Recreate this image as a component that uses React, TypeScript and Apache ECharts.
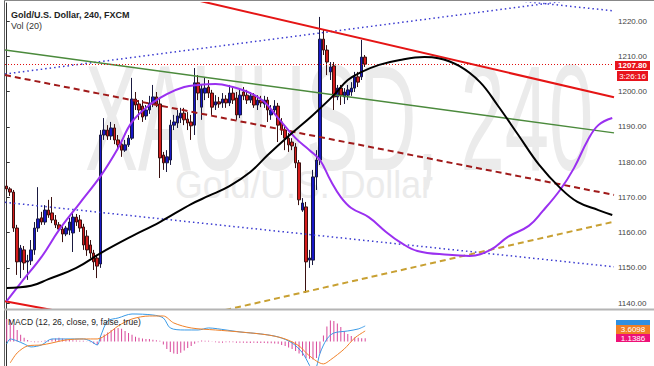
import React, { useEffect, useRef } from 'react';
import * as echarts from 'echarts';

const SLOTS = 175;
const categories: string[] = Array.from({ length: SLOTS }, (_, i) => String(i));

// [open, close, low, high]
const candles: number[][] = [
  [1173.2, 1172.4, 1171.8, 1174.9], [1172.4, 1171.5, 1170.4, 1172.9], [1171.5, 1161.3, 1160.2, 1172.1],
  [1161.3, 1151.7, 1148.0, 1162.2], [1151.7, 1155.6, 1147.1, 1156.5], [1155.1, 1151.4, 1149.4, 1156.2],
  [1151.7, 1152.0, 1146.6, 1153.7], [1152.0, 1155.1, 1150.8, 1157.9], [1155.1, 1161.3, 1153.7, 1163.0],
  [1161.3, 1163.9, 1160.2, 1172.9], [1164.2, 1163.0, 1162.2, 1165.9], [1163.0, 1166.4, 1162.2, 1167.8],
  [1166.4, 1165.0, 1164.2, 1169.3], [1165.6, 1163.6, 1162.7, 1170.1], [1163.6, 1162.2, 1161.3, 1165.0],
  [1162.2, 1161.0, 1160.2, 1163.0], [1161.0, 1159.6, 1157.3, 1161.9], [1159.6, 1161.3, 1159.0, 1161.9],
  [1160.7, 1163.0, 1159.3, 1164.2], [1159.9, 1164.4, 1154.5, 1165.6], [1164.4, 1163.0, 1161.9, 1165.3],
  [1163.6, 1161.3, 1160.2, 1165.0], [1161.6, 1156.5, 1155.1, 1162.5], [1159.0, 1155.1, 1153.4, 1160.7],
  [1156.5, 1154.2, 1152.8, 1157.9], [1154.2, 1151.7, 1149.4, 1155.1], [1152.8, 1150.5, 1147.1, 1153.7],
  [1151.1, 1187.7, 1150.0, 1189.1], [1187.7, 1189.1, 1186.3, 1192.5], [1189.1, 1187.4, 1186.3, 1190.5],
  [1187.4, 1189.7, 1186.3, 1191.4], [1189.7, 1186.3, 1185.1, 1190.8], [1186.3, 1184.9, 1183.4, 1187.7],
  [1185.1, 1183.4, 1181.5, 1186.3], [1183.4, 1184.9, 1182.9, 1186.3], [1184.9, 1186.8, 1184.3, 1187.7],
  [1186.8, 1197.9, 1186.3, 1203.9], [1197.9, 1196.2, 1194.8, 1199.9], [1196.5, 1194.8, 1192.0, 1197.6],
  [1195.9, 1192.8, 1191.4, 1197.6], [1193.1, 1194.8, 1192.0, 1196.2], [1194.8, 1196.8, 1193.7, 1198.8],
  [1196.5, 1198.5, 1195.6, 1201.9], [1198.5, 1196.5, 1195.6, 1199.9], [1196.5, 1181.2, 1175.5, 1198.2],
  [1182.0, 1179.8, 1177.8, 1182.9], [1179.8, 1181.5, 1177.2, 1183.4], [1180.6, 1190.5, 1179.2, 1192.0],
  [1190.5, 1191.4, 1189.1, 1193.4], [1191.1, 1193.1, 1189.7, 1194.8], [1192.5, 1193.9, 1191.1, 1195.4],
  [1193.9, 1192.0, 1190.5, 1195.4], [1192.2, 1191.1, 1189.1, 1194.2], [1191.4, 1190.3, 1186.3, 1193.4],
  [1190.5, 1202.5, 1187.7, 1206.7], [1202.5, 1199.6, 1197.6, 1204.7], [1195.6, 1200.8, 1192.0, 1201.9],
  [1199.6, 1201.0, 1197.6, 1203.9], [1201.3, 1199.6, 1198.2, 1203.3], [1199.6, 1195.6, 1193.4, 1200.5],
  [1196.2, 1197.1, 1194.8, 1199.0], [1197.1, 1196.5, 1195.4, 1198.5], [1196.8, 1197.9, 1195.4, 1199.6],
  [1197.9, 1196.8, 1195.4, 1199.0], [1196.8, 1199.6, 1195.9, 1201.9], [1199.6, 1197.6, 1196.5, 1201.0],
  [1198.2, 1193.4, 1192.0, 1199.9], [1193.4, 1199.0, 1192.5, 1200.5], [1199.9, 1198.8, 1197.6, 1201.3],
  [1199.0, 1197.6, 1196.5, 1200.5], [1197.6, 1198.8, 1196.8, 1199.9], [1198.8, 1196.2, 1195.4, 1199.6],
  [1196.2, 1197.6, 1194.8, 1199.0], [1197.6, 1196.8, 1195.6, 1198.8], [1196.5, 1197.6, 1195.4, 1198.8],
  [1197.6, 1194.8, 1191.4, 1198.5], [1193.4, 1194.8, 1192.0, 1196.2], [1194.8, 1195.9, 1193.4, 1197.6],
  [1195.9, 1190.5, 1185.7, 1196.8], [1191.4, 1189.1, 1187.7, 1192.5], [1189.1, 1186.8, 1183.4, 1190.3],
  [1186.8, 1184.9, 1182.9, 1188.3], [1185.7, 1184.6, 1183.4, 1186.8], [1184.3, 1179.8, 1178.3, 1185.4],
  [1179.8, 1169.3, 1167.8, 1180.6], [1166.4, 1168.4, 1165.9, 1169.8], [1167.3, 1151.7, 1142.9, 1168.7],
  [1152.2, 1152.8, 1150.0, 1155.1], [1152.2, 1175.8, 1150.8, 1177.8], [1175.8, 1180.6, 1172.1, 1183.4],
  [1180.6, 1214.9, 1179.2, 1221.2], [1214.9, 1211.8, 1210.4, 1217.5], [1211.8, 1208.4, 1204.7, 1213.2],
  [1205.6, 1207.0, 1203.3, 1208.4], [1207.3, 1198.5, 1194.8, 1208.4], [1198.5, 1201.0, 1197.6, 1201.9],
  [1201.0, 1199.0, 1196.2, 1201.9], [1198.5, 1199.9, 1196.5, 1201.0], [1199.0, 1200.5, 1197.6, 1201.9],
  [1199.9, 1201.0, 1198.8, 1202.7], [1201.0, 1204.2, 1199.9, 1205.6], [1204.2, 1202.7, 1201.3, 1205.6],
  [1204.2, 1209.8, 1203.3, 1214.7], [1209.8, 1207.8, 1207.0, 1210.4],
];

// indicator curves: [slot index, price]
const purpleLine: number[][] = [
  [0, 1140.6], [4, 1145.7], [10, 1153.1], [15, 1160.7], [21, 1168.4], [27, 1176.1], [32, 1184.0],
  [36, 1191.4], [41, 1196.2], [46, 1199.3], [51, 1201.3], [55, 1201.9], [60, 1202.2], [65, 1201.3],
  [70, 1199.6], [74, 1197.1], [78, 1192.5], [83, 1186.8], [87, 1183.4], [90, 1180.6], [93, 1174.9],
  [96, 1170.1], [99, 1167.0], [104, 1164.4], [109, 1160.2], [113, 1157.3], [118, 1154.8], [127, 1153.7],
  [133, 1153.4], [139, 1155.1], [144, 1158.8], [150, 1161.9], [154, 1166.1], [159, 1172.1], [163, 1178.3],
  [167, 1186.3], [170, 1190.5], [174, 1192.5],
];
const blackLine: number[][] = [
  [0, 1144.3], [7, 1144.9], [12, 1146.8], [20, 1150.0], [27, 1154.2], [35, 1158.5], [44, 1163.0],
  [53, 1168.1], [58, 1170.4], [64, 1173.2], [70, 1177.2], [75, 1182.0], [81, 1187.4], [88, 1193.4],
  [94, 1199.0], [98, 1203.3], [102, 1205.6], [107, 1207.6], [113, 1209.0], [120, 1209.8], [124, 1209.5],
  [130, 1207.3], [136, 1202.7], [141, 1196.2], [147, 1187.7], [153, 1179.2], [159, 1172.7], [164, 1168.7],
  [170, 1166.4], [174, 1165.0],
];

// drawn trend lines: [slot index, price]
const redChannelTop: number[][] = [[50, 1227.0], [174.5, 1198.4]];
const redChannelBottom: number[][] = [[-0.5, 1140.5], [15, 1137.7]];
const blueDottedUp: number[][] = [[-0.5, 1205.0], [174.5, 1227.5]];
const blueDottedTop: number[][] = [[140, 1226.5], [174.5, 1222.9]];
const blueDottedLow: number[][] = [[-0.5, 1168.6], [174.5, 1150.3]];
const greenLine: number[][] = [[-0.5, 1211.8], [174.5, 1188.3]];
const maroonDashed: number[][] = [[-0.5, 1204.7], [174.5, 1170.7]];
const goldDashed: number[][] = [[60, 1137.4], [174.5, 1163.1]];

const lastPrice = 1207.8;
const priceTicks = [1140, 1150, 1160, 1170, 1180, 1190, 1200, 1210, 1220];

// MACD panel
const macdLine: number[][] = [
  [0, -0.83], [1, 0.83], [3, 0.17], [5, -0.83], [7, -1.83], [10, -1.17], [13, 0.83], [17, 0.83], [22, 0.83],
  [24, 0.17], [26, -1.17], [27, 1.83], [29, 6.83], [32, 7.83], [36, 9.17], [42, 8.83], [45, 7.83], [47, 4.5],
  [51, 3.83], [55, 3.83], [58, 4.5], [63, 3.83], [67, 3.17], [73, 2.5], [78, 1.5], [82, -0.5], [85, -3.83],
  [87, -8.0], [88, -10.2], [89, -8.5], [90, -4.0], [92, 0.83], [94, 2.83], [98, 3.5], [101, 4.17], [103, 5.17],
];
const signalLine: number[][] = [
  [1, -7.17], [3, -3.83], [6, -1.5], [10, -1.17], [13, -0.5], [17, 0.5], [22, 0.83], [26, 0.83], [29, 2.5],
  [32, 5.17], [36, 7.5], [41, 8.5], [45, 8.5], [48, 6.17], [53, 4.5], [60, 3.83], [67, 3.17], [75, 2.17],
  [80, 0.83], [84, -1.5], [87, -4.83], [91, -7.5], [93, -6.17], [97, -2.5], [100, 1.17], [103, 3.5],
];
const histogram: number[] = [
  7.5, 7.2, 5.5, 3.8, 2.2, 1.2, 0.5, -0.2, -0.3, -0.3, -0.2, 0.3, 0.5, 0.8, 1.0, 1.2, 1.0, 0.8, 0.5, 0.4,
  0.3, 0.2, 0.2, 0.1, -0.3, -0.8, -1.2, 1.5, 2.3, 3.0, 3.8, 4.3, 4.5, 4.2, 3.5, 2.8, 2.2, 1.6, 1.2, 1.0,
  0.8, 0.8, 0.6, 0.4, 0.2, -1.0, -2.5, -3.5, -4.0, -4.2, -3.8, -3.0, -2.2, -1.5, -0.8, -0.3, 0.3, 0.2, 0.2, 0.1,
  -0.3, -0.4, -0.4, -0.3, -0.3, -0.3, -0.4, -0.4, -0.4, -0.5, -0.5, -0.4, -0.5, -0.5, -0.5, -0.6, -0.6, -0.7, -0.8, -1.2,
  -1.5, -2.0, -2.5, -3.2, -4.0, -4.8, -5.5, -5.8, -6.0, -5.5, -4.0, 2.0, 5.0, 7.0, 6.8, 6.0, 4.8, 3.5, 2.5, 1.8,
  1.3, 1.2, 1.1, 1.1,
];
const macdLabels = { signal: '3.6098', hist: '1.1386' };

const FONT = 'Liberation Sans, Arial, sans-serif';

function trend(data: number[][], color: string, width: number, type: any) {
  return {
    type: 'line', xAxisIndex: 1, yAxisIndex: 0, data, showSymbol: false, silent: true, clip: true,
    lineStyle: { color, width, type }, z: 4,
  };
}

export default function App() {
  const ref = useRef<HTMLDivElement>(null);
  useEffect(() => {
    if (!ref.current) return;
    const chart = echarts.init(ref.current, undefined, { renderer: 'svg' });
    const option: any = {
      animation: false,
      grid: [
        { left: 5, top: 3, width: 609, height: 306 },
        { left: 5, top: 310, width: 609, height: 56 },
      ],
      xAxis: [
        { type: 'category', data: categories, gridIndex: 0, show: false, boundaryGap: true },
        { type: 'value', gridIndex: 0, min: -0.5, max: SLOTS - 0.5, show: false },
        { type: 'category', data: categories, gridIndex: 1, show: false, boundaryGap: true },
        { type: 'value', gridIndex: 1, min: -0.5, max: SLOTS - 0.5, show: false },
      ],
      yAxis: [
        {
          type: 'value', gridIndex: 0, position: 'right', min: 1138.33, max: 1225.15,
          axisLine: { show: true, lineStyle: { color: '#333', width: 1 } },
          axisTick: { show: true, length: 3, lineStyle: { color: '#333' }, customValues: priceTicks },
          axisLabel: {
            show: true, customValues: priceTicks, formatter: (v: number) => v.toFixed(2),
            fontSize: 8, color: '#444', margin: 4, fontFamily: FONT,
          },
          splitLine: { show: false },
        },
        {
          type: 'value', gridIndex: 1, position: 'right', min: -8.2, max: 10.5,
          axisLine: { show: true, lineStyle: { color: '#333', width: 1 } },
          axisTick: { show: false }, axisLabel: { show: false }, splitLine: { show: false },
        },
      ],
      series: [
        {
          type: 'candlestick', xAxisIndex: 0, yAxisIndex: 0, data: candles, barWidth: 3, z: 3,
          itemStyle: { color: '#1616c8', color0: '#d41c1c', borderColor: '#1a1a40', borderColor0: '#3a1010', borderWidth: 1 },
          markLine: {
            silent: true, symbol: 'none', label: { show: false },
            lineStyle: { color: '#e01010', width: 1, type: [1, 2] },
            data: [{ yAxis: lastPrice }],
          },
        },
        trend(blueDottedUp, '#3a3ad0', 1.5, [1.5, 3]),
        trend(blueDottedTop, '#3a3ad0', 1.5, [1.5, 3]),
        trend(blueDottedLow, '#3a3ad0', 1.5, [1.5, 3]),
        trend(greenLine, '#4b8a3c', 1.5, 'solid'),
        trend(maroonDashed, '#a01a1a', 2, [6, 4]),
        trend(goldDashed, '#c8a032', 2, [6, 4]),
        trend(redChannelTop, '#e51515', 2, 'solid'),
        trend(redChannelBottom, '#e51515', 2, 'solid'),
        {
          type: 'line', xAxisIndex: 1, yAxisIndex: 0, data: purpleLine, smooth: 0.4, showSymbol: false,
          lineStyle: { color: '#9a30f0', width: 2 }, z: 5, silent: true,
        },
        {
          type: 'line', xAxisIndex: 1, yAxisIndex: 0, data: blackLine, smooth: 0.4, showSymbol: false,
          lineStyle: { color: '#000', width: 2 }, z: 5, silent: true,
        },
        {
          type: 'bar', xAxisIndex: 2, yAxisIndex: 1, data: histogram, barWidth: 1,
          itemStyle: { color: '#d8479a' }, silent: true,
        },
        {
          type: 'line', xAxisIndex: 3, yAxisIndex: 1, data: macdLine, smooth: 0.3, showSymbol: false,
          lineStyle: { color: '#3a9ae6', width: 1 }, z: 5, silent: true,
        },
        {
          type: 'line', xAxisIndex: 3, yAxisIndex: 1, data: signalLine, smooth: 0.3, showSymbol: false,
          lineStyle: { color: '#f0822a', width: 1 }, z: 5, silent: true,
        },
      ],
      graphic: {
        elements: [
          {
            type: 'text', x: 85, y: 118, scaleX: 0.53, z: 0, silent: true,
            style: { text: 'XAUUSD, 240', fontSize: 150, fontFamily: FONT, fill: '#ebebeb', verticalAlign: 'middle', align: 'left' },
          },
          {
            type: 'text', x: 175, y: 185, scaleX: 0.94, z: 0, silent: true,
            style: { text: 'Gold/U.S. Dollar', fontSize: 38, fontFamily: FONT, fill: '#ebebeb', verticalAlign: 'middle', align: 'left' },
          },
          {
            type: 'text', x: 11, y: 15, z: 100, silent: true,
            style: { text: 'Gold/U.S. Dollar, 240, FXCM', fontSize: 9, fontWeight: 'bold', fontFamily: FONT, fill: '#222', verticalAlign: 'middle' },
          },
          {
            type: 'text', x: 11, y: 26, z: 100, silent: true,
            style: { text: 'Vol (20)', fontSize: 9, fontFamily: FONT, fill: '#333', verticalAlign: 'middle' },
          },
          {
            type: 'text', x: 8, y: 322, z: 100, silent: true,
            style: { text: 'MACD (12, 26, close, 9, false, true)', fontSize: 8.5, fontFamily: FONT, fill: '#222', verticalAlign: 'middle' },
          },
          { type: 'line', z: 100, silent: true, shape: { x1: 4.5, y1: 0, x2: 4.5, y2: 366 }, style: { stroke: '#666', lineWidth: 1 } },
          { type: 'line', z: 100, silent: true, shape: { x1: 4, y1: 0.5, x2: 654, y2: 0.5 }, style: { stroke: '#888', lineWidth: 1 } },
          { type: 'line', z: 100, silent: true, shape: { x1: 4, y1: 309.5, x2: 654, y2: 309.5 }, style: { stroke: '#b4b4b4', lineWidth: 2 } },
          { type: 'rect', z: 100, silent: true, shape: { x: 615, y: 61, width: 35, height: 9 }, style: { fill: '#e8141c' } },
          {
            type: 'text', z: 101, silent: true, x: 632.5, y: 65.5,
            style: { text: lastPrice.toFixed(2), fontSize: 8, fontWeight: 'bold', fontFamily: FONT, fill: '#fff', align: 'center', verticalAlign: 'middle' },
          },
          { type: 'rect', z: 100, silent: true, shape: { x: 617, y: 71, width: 31, height: 10 }, style: { fill: '#e8141c' } },
          {
            type: 'text', z: 101, silent: true, x: 632.5, y: 76,
            style: { text: '3:26:16', fontSize: 8, fontFamily: FONT, fill: '#fff', align: 'center', verticalAlign: 'middle' },
          },
          { type: 'rect', z: 100, silent: true, shape: { x: 616, y: 320, width: 34, height: 6 }, style: { fill: '#2f8fe0' } },
          { type: 'rect', z: 101, silent: true, shape: { x: 616, y: 325, width: 34, height: 9 }, style: { fill: '#f07f24' } },
          {
            type: 'text', z: 102, silent: true, x: 633, y: 329.5,
            style: { text: macdLabels.signal, fontSize: 8, fontFamily: FONT, fill: '#fff', align: 'center', verticalAlign: 'middle' },
          },
          { type: 'rect', z: 101, silent: true, shape: { x: 616, y: 334, width: 34, height: 8 }, style: { fill: '#ee1177' } },
          {
            type: 'text', z: 102, silent: true, x: 633, y: 338,
            style: { text: macdLabels.hist, fontSize: 8, fontFamily: FONT, fill: '#fff', align: 'center', verticalAlign: 'middle' },
          },
        ],
      },
    };
    chart.setOption(option);
    return () => chart.dispose();
  }, []);
  return (
    <div
      ref={ref}
      style={{ position: 'fixed', left: 0, top: 0, width: 654, height: 366, background: '#fff' }}
    />
  );
}
